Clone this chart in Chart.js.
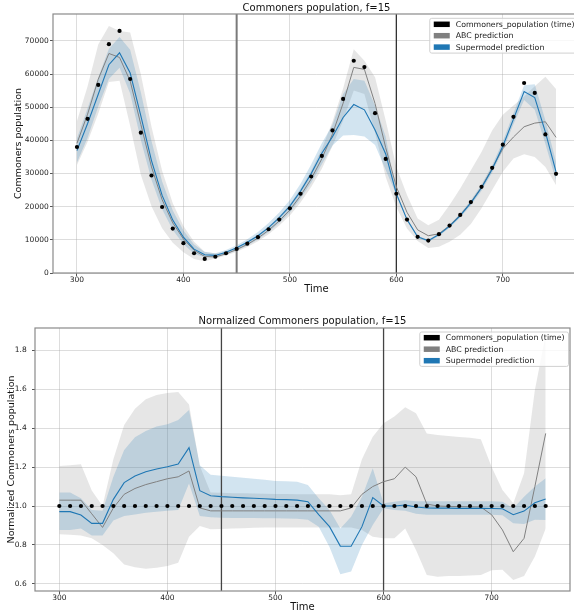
<!DOCTYPE html>
<html><head><meta charset="utf-8">
<script src="https://cdn.jsdelivr.net/npm/chart.js@4.4.1/dist/chart.umd.min.js"></script>
<style>
html,body{margin:0;padding:0;background:#fff;overflow:hidden;width:574px;height:613px;}
#topWrap{position:absolute;left:0;top:0;width:584px;height:300px;}
#botWrap{position:absolute;left:0;top:300px;width:574px;height:313px;}
canvas{display:block;}
</style></head><body>
<div id="topWrap"><canvas id="c1" width="584" height="300"></canvas></div>
<div id="botWrap"><canvas id="c2" width="574" height="313"></canvas></div>
<script>
// ---------- data ----------
const times = [300,310,320,330,340,350,360,370,380,390,400,410,420,430,440,450,460,470,480,490,500,510,520,530,540,550,560,570,580,590,600,610,620,630,640,650,660,670,680,690,700,710,720,730,740,750];
const xTicks = [300,400,500,600,700];
const splitTimes = [450,600];
const xRange = [277.5,772.5];
const popYTicks = [0,10000,20000,30000,40000,50000,60000,70000];
const popYRange = [0,78100];
const normYTicks = [0.6,0.8,1.0,1.2,1.4,1.6,1.8];
const normYRange = [0.5634,1.9144];

const popObserved = [38000,46500,56700,69000,73000,58500,42300,29400,19900,13400,9000,5950,4230,4900,5950,7250,8850,10800,13200,16100,19500,23900,29100,35300,43000,52500,64000,62100,48200,34400,23900,16100,10900,9770,11700,14300,17500,21400,26000,31700,38700,47100,57300,54300,41800,29900];
const popAbcMean = [39100,47900,58400,66200,65000,57900,44800,32000,22100,15100,10260,6840,4990,4850,5800,7070,8630,10530,12870,15700,19010,23300,28370,34420,41900,51200,62000,61400,51100,37800,26000,18300,13000,11240,11820,14300,17500,21300,25900,31600,37500,41000,44100,45200,45600,40900];
const popAbcLow = [32500,39600,48100,57600,58000,44300,29600,20100,13500,9150,6230,4220,3560,4400,5240,6390,7820,9570,11720,14310,17360,21270,25900,31420,38270,46000,55000,54000,42270,28960,19930,13430,9650,7560,7900,9400,11500,14800,19500,25000,30500,34500,35800,35000,32000,26500];
const popAbcHigh = [45800,56300,68900,74500,73000,72500,59900,44100,30800,21000,14200,9440,6440,5910,6370,7740,9430,11500,14040,17110,20710,25380,30880,37420,45580,55650,67500,64000,59000,46000,32000,23500,16430,14420,16060,20500,25500,31000,36500,43000,47700,50500,53200,56300,59200,55500];
const popSmMean = [36900,45100,53900,62800,66400,60300,47400,33900,23400,15950,10800,7200,5500,5300,6250,7600,9250,11250,13700,16700,20150,24700,29970,36100,41100,46900,50800,49200,43100,35900,23900,16100,10950,9720,11580,14140,17300,21150,25700,31300,38200,46400,54700,52900,42500,30500];
const popSmLow = [33300,40800,50200,58500,61900,54100,40100,28100,19200,13000,8780,5830,4720,4650,5600,6820,8310,10130,12380,15090,18270,22370,27210,32830,38440,41480,41600,41170,38560,31030,23610,15780,10630,9380,11170,13660,16710,20440,24830,30270,36960,44890,52200,49250,38870,27750];
const popSmHigh = [40600,49700,58970,67600,71200,67300,54500,39800,27560,18870,12780,8580,6320,5930,6900,8370,10180,12370,15050,18270,22000,26940,32740,39110,44720,54000,58500,58000,50510,41070,24230,16450,11230,10010,11990,14660,17940,21940,26650,32490,39670,48140,56610,56910,45980,33500];

const normObserved = [1,1,1,1,1,1,1,1,1,1,1,1,1,1,1,1,1,1,1,1,1,1,1,1,1,1,1,1,1,1,1,1,1,1,1,1,1,1,1,1,1,1,1,1,1,1];
const normAbcMean = [1.03,1.03,1.03,0.96,0.89,0.99,1.06,1.09,1.11,1.125,1.14,1.15,1.18,0.99,0.975,0.975,0.975,0.975,0.975,0.975,0.975,0.975,0.975,0.975,0.975,0.975,0.975,0.99,1.06,1.10,1.125,1.14,1.20,1.15,1.01,1.0,0.998,0.997,0.996,0.995,0.955,0.877,0.765,0.834,1.10,1.373];
const normAbcLow = [0.855,0.852,0.848,0.835,0.80,0.757,0.70,0.685,0.678,0.683,0.692,0.709,0.842,0.897,0.88,0.882,0.884,0.886,0.888,0.889,0.89,0.89,0.89,0.89,0.89,0.89,0.89,0.89,0.877,0.842,0.834,0.834,0.885,0.774,0.645,0.637,0.64,0.641,0.643,0.645,0.67,0.672,0.62,0.64,0.74,0.885];
const normAbcHigh = [1.205,1.21,1.215,1.08,1.0,1.24,1.416,1.50,1.548,1.57,1.58,1.586,1.522,1.206,1.07,1.068,1.066,1.065,1.064,1.063,1.062,1.062,1.061,1.06,1.06,1.06,1.055,1.06,1.24,1.356,1.425,1.46,1.507,1.476,1.373,1.365,1.36,1.355,1.35,1.343,1.20,1.082,1.014,1.168,1.596,1.88];
const normSmMean = [0.971,0.971,0.954,0.911,0.911,1.034,1.12,1.154,1.176,1.19,1.202,1.216,1.30,1.079,1.053,1.048,1.045,1.042,1.04,1.037,1.034,1.033,1.03,1.022,0.956,0.894,0.794,0.793,0.894,1.043,1.0,1.0,1.005,0.995,0.99,0.989,0.989,0.988,0.988,0.988,0.987,0.986,0.955,0.974,1.017,1.036];
const normSmLow = [0.877,0.877,0.885,0.848,0.848,0.925,0.949,0.957,0.965,0.97,0.976,0.98,1.116,0.949,0.942,0.94,0.939,0.938,0.938,0.937,0.937,0.936,0.935,0.93,0.894,0.79,0.65,0.663,0.80,0.902,0.988,0.98,0.975,0.96,0.955,0.955,0.955,0.955,0.955,0.955,0.955,0.953,0.911,0.907,0.93,0.928];
const normSmHigh = [1.069,1.069,1.04,0.98,0.975,1.15,1.288,1.353,1.385,1.408,1.42,1.442,1.493,1.21,1.16,1.155,1.15,1.145,1.14,1.135,1.128,1.127,1.125,1.108,1.04,0.98,0.885,0.945,1.048,1.194,1.014,1.022,1.03,1.025,1.025,1.025,1.025,1.025,1.025,1.025,1.025,1.022,0.988,1.048,1.10,1.142];

const legendLabels = ['Commoners_population (time)','ABC prediction','Supermodel prediction'];
const legendColors = ['#000000','#808080','#1f77b4'];

// ---------- style ----------
const FONT = '"DejaVu Sans", "Liberation Sans", sans-serif';
const GRAY = '#808080', BLUE = '#1f77b4';
const GRAY_FILL = 'rgba(128,128,128,0.2)', BLUE_FILL = 'rgba(31,119,180,0.2)';

function pts(arr){ return times.map((t,i)=>({x:t,y:arr[i]})); }
function vline(t, yr){ return [{x:t,y:yr[0]},{x:t,y:yr[1]}]; }

const framePlugin = {
  id:'frame',
  afterDatasetsDraw(chart){
    const {ctx, chartArea:a} = chart;
    ctx.save();
    ctx.strokeStyle = '#8a8a8a';
    ctx.lineWidth = 1.2;
    ctx.strokeRect(a.left, a.top, a.right-a.left, a.bottom-a.top);
    ctx.restore();
  }
};
function makeLegendPlugin(opt){
  return {
    id:'mplLegend',
    afterDraw(chart){
      const {ctx, chartArea:a} = chart;
      ctx.save();
      ctx.font = opt.fontSize + 'px ' + FONT;
      const tw = Math.max(...legendLabels.map(s=>ctx.measureText(s).width));
      const padX = 4, handleW = 16, handleH = 5.5, gap = 6, rowH = opt.rowH;
      const w = padX + handleW + gap + tw + 4;
      const h = rowH*2 + opt.firstOff*2;
      const x = a.right - 1.5 - w, y = a.top + opt.topOff;
      ctx.beginPath();
      if (ctx.roundRect) ctx.roundRect(x, y, w, h, 2); else ctx.rect(x,y,w,h);
      ctx.fillStyle = 'rgba(255,255,255,0.8)';
      ctx.fill();
      ctx.strokeStyle = '#d0d0d0';
      ctx.lineWidth = 1;
      ctx.stroke();
      ctx.textBaseline = 'middle';
      ctx.textAlign = 'left';
      legendLabels.forEach((lab,i)=>{
        const cy = y + opt.firstOff + i*rowH;
        ctx.fillStyle = legendColors[i];
        ctx.fillRect(x+padX, cy-handleH/2, handleW, handleH);
        ctx.fillStyle = '#1a1a1a';
        ctx.fillText(lab, x+padX+handleW+gap, cy+0.5);
      });
      ctx.restore();
    }
  };
}

function buildChart(id, c){
  const ds = [
    {data:pts(c.abcLow), borderColor:'rgba(0,0,0,0)', borderWidth:0, pointRadius:0, fill:false, order:6},
    {data:pts(c.abcHigh), borderColor:'rgba(0,0,0,0)', borderWidth:0, pointRadius:0, fill:'-1', backgroundColor:GRAY_FILL, order:6},
    {data:pts(c.smLow), borderColor:'rgba(0,0,0,0)', borderWidth:0, pointRadius:0, fill:false, order:5},
    {data:pts(c.smHigh), borderColor:'rgba(0,0,0,0)', borderWidth:0, pointRadius:0, fill:'-1', backgroundColor:BLUE_FILL, order:5},
    {data:vline(splitTimes[0], c.yRange), borderColor:c.v1Color, borderWidth:c.v1Width, pointRadius:0, fill:false, order:4},
    {data:vline(splitTimes[1], c.yRange), borderColor:c.v2Color, borderWidth:c.v2Width, pointRadius:0, fill:false, order:4},
    {data:pts(c.abcMean), borderColor:GRAY, borderWidth:1, pointRadius:0, fill:false, order:2},
    {data:pts(c.smMean), borderColor:BLUE, borderWidth:1.1, pointRadius:0, fill:false, order:1},
    {data:pts(c.observed), showLine:false, borderColor:'#000', backgroundColor:'#000', pointRadius:2.1, pointBorderWidth:0, fill:false, order:0}
  ];
  return new Chart(document.getElementById(id), {
    type:'line',
    data:{datasets:ds},
    options:{
      responsive:false, animation:false, events:[],
      elements:{line:{tension:0}},
      layout:{padding:{left:0,right:c.padRight,top:0,bottom:0}},
      plugins:{
        legend:{display:false}, tooltip:{enabled:false},
        title:{display:true, text:c.title, fullSize:false, color:'#111',
               font:{family:FONT,size:10,weight:'normal',lineHeight:1.2},
               padding:{top:c.titlePadTop,bottom:c.titlePadBottom}}
      },
      scales:{
        x:{type:'linear', min:xRange[0], max:xRange[1],
           afterBuildTicks:s=>{ s.ticks = xTicks.map(v=>({value:v})); },
           afterFit:s=>{ s.height = c.xH; },
           border:{display:false},
           grid:{color:'rgba(170,170,170,0.4)', lineWidth:1, drawTicks:true, tickLength:3, tickColor:'#555', tickWidth:1},
           ticks:{autoSkip:false, maxRotation:0, color:'#222', padding:c.xTickPad, font:{family:FONT,size:7.5}, callback:v=>String(v)},
           title:{display:true, text:'Time', color:'#111', font:{family:FONT,size:10}, padding:{top:0,bottom:c.xTitlePad}}
        },
        y:{type:'linear', min:c.yRange[0], max:c.yRange[1],
           afterBuildTicks:s=>{ s.ticks = c.yTicks.map(v=>({value:v})); },
           afterFit:s=>{ s.width = c.yW; },
           border:{display:false},
           grid:{color:'rgba(170,170,170,0.4)', lineWidth:1, drawTicks:true, tickLength:3, tickColor:'#555', tickWidth:1},
           ticks:{autoSkip:false, color:'#222', padding:c.yTickPad, font:{family:FONT,size:7.5}, callback:c.yFmt},
           title:{display:true, text:c.yTitle, color:'#111', font:{family:FONT,size:9.5}, padding:{top:c.yTitlePad,bottom:0}}
        }
      }
    },
    plugins:[framePlugin, makeLegendPlugin(c.legend)]
  });
}

buildChart('c1', {
  title:'Commoners population, f=15', yTitle:'Commoners population',
  observed:popObserved, abcMean:popAbcMean, abcLow:popAbcLow, abcHigh:popAbcHigh,
  smMean:popSmMean, smLow:popSmLow, smHigh:popSmHigh,
  yRange:popYRange, yTicks:popYTicks, yFmt:v=>String(v),
  padRight:2, titlePadTop:2, titlePadBottom:0, xH:27, xTickPad:0, xTitlePad:5,
  yW:53, yTickPad:1.3, yTitlePad:12.6,
  v1Color:'#7a7a7a', v1Width:2, v2Color:'#333', v2Width:1.3,
  legend:{fontSize:7.8, rowH:11.4, firstOff:6, topOff:4.3}
});
buildChart('c2', {
  title:'Normalized Commoners population, f=15', yTitle:'Normalized Commoners population',
  observed:normObserved, abcMean:normAbcMean, abcLow:normAbcLow, abcHigh:normAbcHigh,
  smMean:normSmMean, smLow:normSmLow, smHigh:normSmHigh,
  yRange:normYRange, yTicks:normYTicks, yFmt:v=>Number(v).toFixed(1),
  padRight:1, titlePadTop:15, titlePadBottom:1, xH:22, xTickPad:0, xTitlePad:0,
  yW:35, yTickPad:5.3, yTitlePad:6,
  v1Color:'#444', v1Width:1.3, v2Color:'#444', v2Width:1.3,
  legend:{fontSize:7.8, rowH:11.5, firstOff:5.7, topOff:4}
});
</script>
</body></html>
